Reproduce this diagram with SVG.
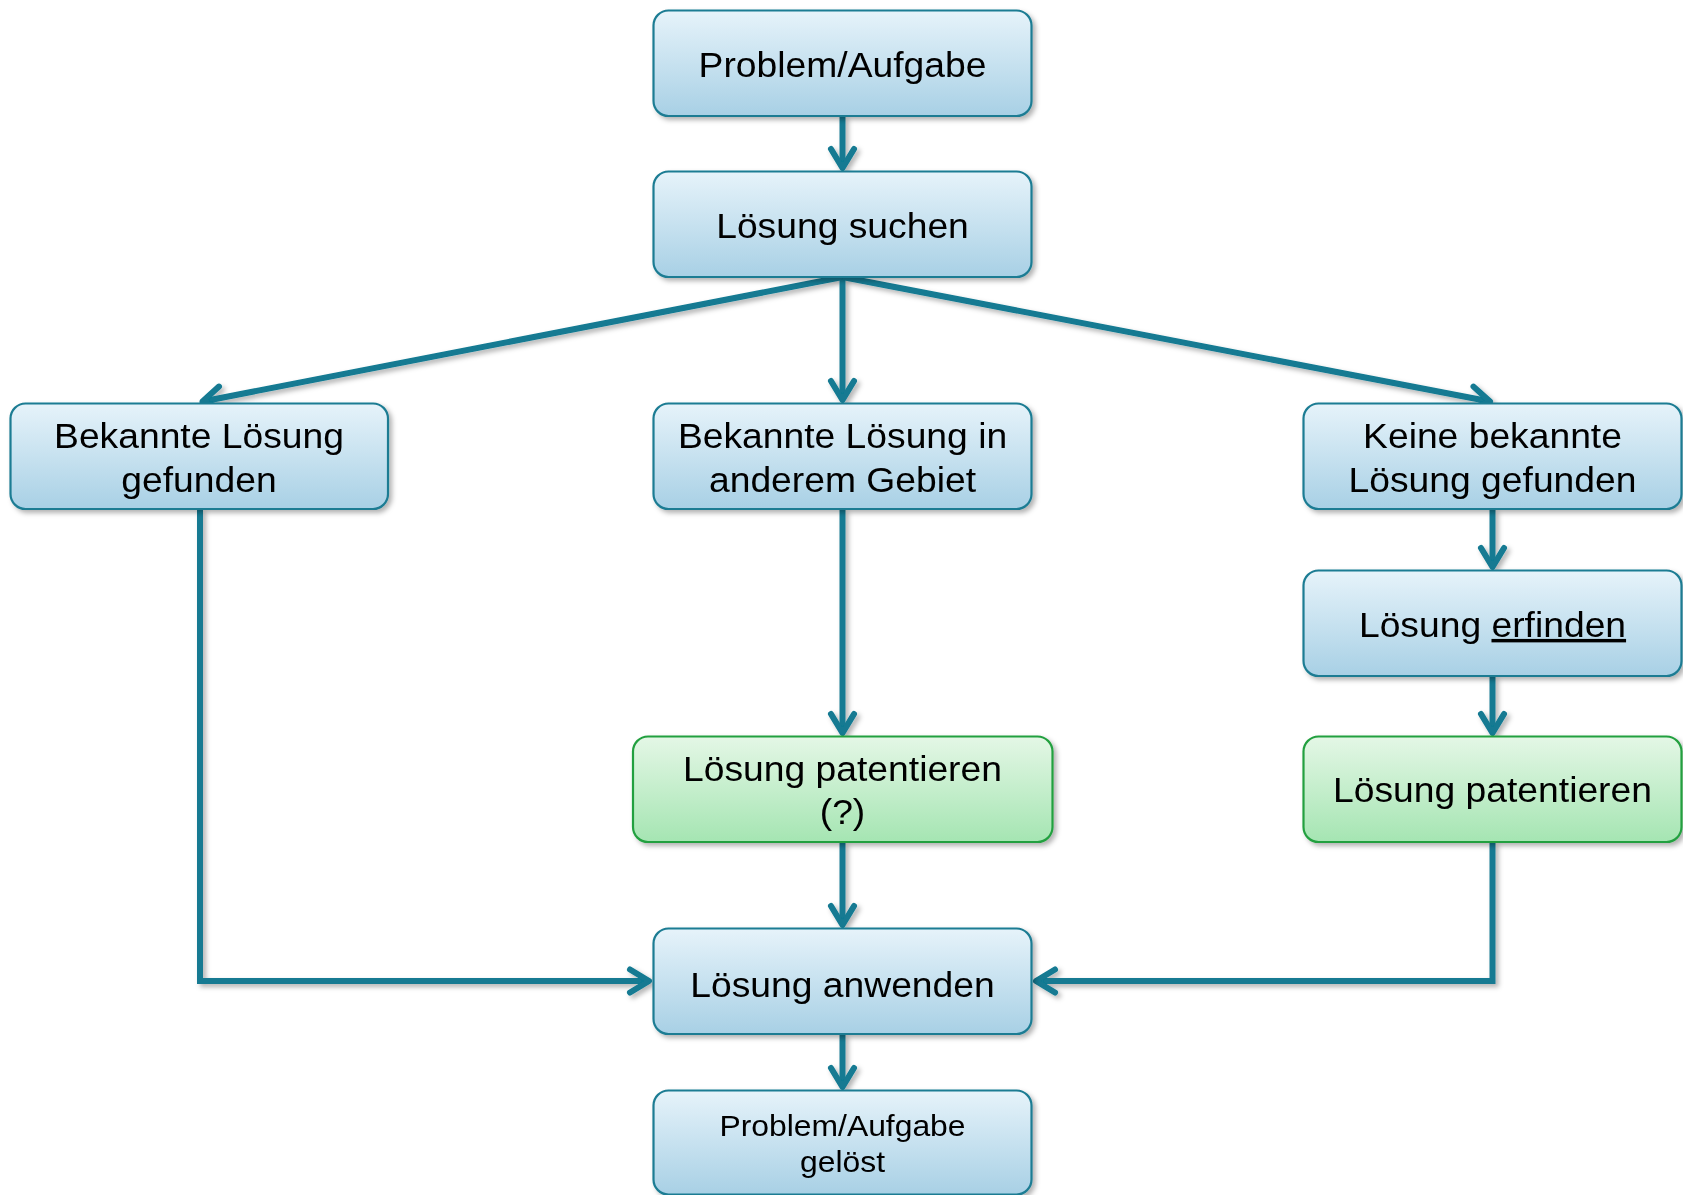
<svg xmlns="http://www.w3.org/2000/svg" width="1683" height="1195" viewBox="0 0 1683 1195">
<style>
.box{fill:url(#gb);stroke:#1b7c93;stroke-width:2.2}
.gbox{fill:url(#gg);stroke:#23a03f;stroke-width:2.2}
.t{font-family:"Liberation Sans",Arial,sans-serif;font-size:34.5px;fill:#000;text-anchor:middle}
.ts{font-family:"Liberation Sans",Arial,sans-serif;font-size:29.5px;fill:#000;text-anchor:middle}
.c{fill:none;stroke:#127a92;stroke-width:6;stroke-linejoin:miter}
</style>
<defs>
<linearGradient id="gb" x1="0" y1="0" x2="0" y2="1">
<stop offset="0" stop-color="#e6f3fa"/>
<stop offset="1" stop-color="#a8d0e5"/>
</linearGradient>
<linearGradient id="gg" x1="0" y1="0" x2="0" y2="1">
<stop offset="0" stop-color="#e4f7e6"/>
<stop offset="1" stop-color="#a5e5b2"/>
</linearGradient>
<filter id="sh" x="-10%" y="-10%" width="120%" height="130%">
<feDropShadow dx="3" dy="3" stdDeviation="2.5" flood-color="#000" flood-opacity="0.3"/>
</filter>
<marker id="ah" markerUnits="userSpaceOnUse" markerWidth="40" markerHeight="40" viewBox="-25 -20 40 40" refX="0" refY="0" orient="auto" overflow="visible">
<path d="M-19,-11.5 L0,0 L-19,11.5" fill="none" stroke="#127a92" stroke-width="6" stroke-linecap="round" stroke-linejoin="round"/>
</marker>
</defs>
<rect width="1683" height="1195" fill="#fff"/>

<g id="connectors" filter="url(#sh)">
<path class="c" d="M842.5,116 V168" marker-end="url(#ah)"/>
<path class="c" d="M842.5,277 L202.5,401.5" marker-end="url(#ah)"/>
<path class="c" d="M842.5,277 V400" marker-end="url(#ah)"/>
<path class="c" d="M842.5,277 L1490,401.5" marker-end="url(#ah)"/>
<path class="c" d="M200,509 V981 H649" marker-end="url(#ah)"/>
<path class="c" d="M842.5,509 V733" marker-end="url(#ah)"/>
<path class="c" d="M842.5,842 V925" marker-end="url(#ah)"/>
<path class="c" d="M1492.5,509 V567" marker-end="url(#ah)"/>
<path class="c" d="M1492.5,676 V733" marker-end="url(#ah)"/>
<path class="c" d="M1492.5,842 V981 H1036" marker-end="url(#ah)"/>
<path class="c" d="M842.5,1034 V1087" marker-end="url(#ah)"/>
</g>

<g id="n1" filter="url(#sh)">
<rect class="box" x="653.5" y="10.5" width="378" height="105.5" rx="15"/>
<g transform="translate(842.5,0) scale(1.08,1)"><text class="t" x="0" y="77.5">Problem/Aufgabe</text></g>
</g>
<g id="n2" filter="url(#sh)">
<rect class="box" x="653.5" y="171.5" width="378" height="105.5" rx="15"/>
<g transform="translate(842.5,0) scale(1.08,1)"><text class="t" x="0" y="238.5">Lösung suchen</text></g>
</g>
<g id="n3" filter="url(#sh)">
<rect class="box" x="10.5" y="403.5" width="377.5" height="105.5" rx="15"/>
<g transform="translate(199,0) scale(1.08,1)"><text class="t" x="0" y="448">Bekannte Lösung</text><text class="t" x="0" y="492">gefunden</text></g>
</g>
<g id="n4" filter="url(#sh)">
<rect class="box" x="653.5" y="403.5" width="378" height="105.5" rx="15"/>
<g transform="translate(842.5,0) scale(1.08,1)"><text class="t" x="0" y="448">Bekannte Lösung in</text><text class="t" x="0" y="492">anderem Gebiet</text></g>
</g>
<g id="n5" filter="url(#sh)">
<rect class="box" x="1303.5" y="403.5" width="378" height="105.5" rx="15"/>
<g transform="translate(1492.5,0) scale(1.08,1)"><text class="t" x="0" y="448">Keine bekannte</text><text class="t" x="0" y="492">Lösung gefunden</text></g>
</g>
<g id="n6" filter="url(#sh)">
<rect class="box" x="1303.5" y="570.5" width="378" height="105.5" rx="15"/>
<g transform="translate(1492.5,0) scale(1.08,1)"><text class="t" x="0" y="637">Lösung <tspan text-decoration="underline">erfinden</tspan></text></g>
</g>
<g id="n7" filter="url(#sh)">
<rect class="gbox" x="633" y="736.5" width="419.5" height="105.5" rx="15"/>
<g transform="translate(842.5,0) scale(1.08,1)"><text class="t" x="0" y="781">Lösung patentieren</text><text class="t" x="0" y="824">(?)</text></g>
</g>
<g id="n8" filter="url(#sh)">
<rect class="gbox" x="1303.5" y="736.5" width="378" height="105.5" rx="15"/>
<g transform="translate(1492.5,0) scale(1.08,1)"><text class="t" x="0" y="802">Lösung patentieren</text></g>
</g>
<g id="n9" filter="url(#sh)">
<rect class="box" x="653.5" y="928.5" width="378" height="105.5" rx="15"/>
<g transform="translate(842.5,0) scale(1.08,1)"><text class="t" x="0" y="997">Lösung anwenden</text></g>
</g>
<g id="n10" filter="url(#sh)">
<rect class="box" x="653.5" y="1090.5" width="378" height="104" rx="15"/>
<g transform="translate(842.5,0) scale(1.08,1)"><text class="ts" x="0" y="1136">Problem/Aufgabe</text><text class="ts" x="0" y="1172.5">gelöst</text></g>
</g>
</svg>
